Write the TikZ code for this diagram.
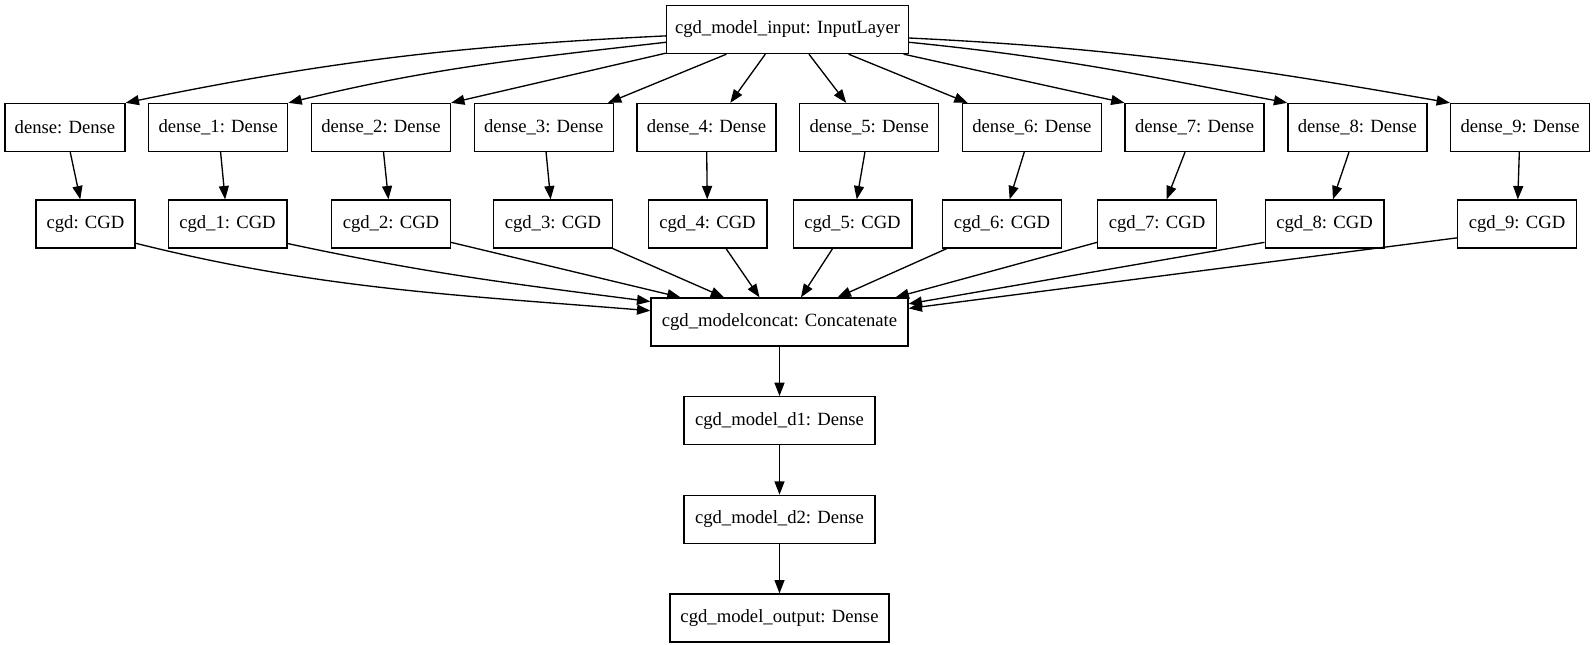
\documentclass[tikz,border=0pt]{standalone}
\usepackage{fontspec}
\setmainfont{Liberation Serif}
\usepackage{tikz}
\usetikzlibrary{arrows.meta, positioning, calc}
\tikzstyle{arrow} = [line width=1pt, -{Triangle[length=10pt, width=7.5pt]}]
\tikzstyle{layer} = [rectangle, minimum height=36pt, inner sep=2pt, text centered, draw=black, line width=1pt, font=\fontsize{14pt}{17pt}\selectfont]

\begin{document}
\begin{tikzpicture}[x=0.75pt, y=-0.75pt]
    \useasboundingbox (0,0) rectangle (1595,644);

    % Entrada
    \node (inp) [layer, minimum width=181.5pt] at (787.5,29.5) {cgd\_model\_input: InputLayer};

    % Capas densas
    \node (den0) [layer, minimum width=90pt] at (65,127.5) {dense: Dense};
    \node (den1) [layer, minimum width=104.25pt, right=16.8pt of den0] {dense\_1: Dense};
    \node (den2) [layer, minimum width=104.25pt, right=16.8pt of den1] {dense\_2: Dense};
    \node (den3) [layer, minimum width=104.25pt, right=16.8pt of den2] {dense\_3: Dense};
    \node (den4) [layer, minimum width=104.25pt, right=16.8pt of den3] {dense\_4: Dense};
    \node (den5) [layer, minimum width=104.25pt, right=16.8pt of den4] {dense\_5: Dense};
    \node (den6) [layer, minimum width=104.25pt, right=16.8pt of den5] {dense\_6: Dense};
    \node (den7) [layer, minimum width=104.25pt, right=16.8pt of den6] {dense\_7: Dense};
    \node (den8) [layer, minimum width=104.25pt, right=16.8pt of den7] {dense\_8: Dense};
    \node (den9) [layer, minimum width=104.25pt, right=16.8pt of den8] {dense\_9: Dense};

    % Capas CGD
    \node (cgd0) [layer, minimum width=74.25pt] at (85.5,224) {cgd: CGD};
    \node (cgd1) [layer, minimum width=89pt] at (227.5,224) {cgd\_1: CGD};
    \node (cgd2) [layer, minimum width=89pt] at (391,224) {cgd\_2: CGD};
    \node (cgd3) [layer, minimum width=89pt] at (553,224) {cgd\_3: CGD};
    \node (cgd4) [layer, minimum width=89pt] at (707.5,224) {cgd\_4: CGD};
    \node (cgd5) [layer, minimum width=89pt] at (852.5,224) {cgd\_5: CGD};
    \node (cgd6) [layer, minimum width=89pt] at (1002,224) {cgd\_6: CGD};
    \node (cgd7) [layer, minimum width=89pt] at (1157,224) {cgd\_7: CGD};
    \node (cgd8) [layer, minimum width=89pt] at (1324.5,224) {cgd\_8: CGD};
    \node (cgd9) [layer, minimum width=89pt] at (1517,224) {cgd\_9: CGD};

    % Concatenacion y salida
    \node (concat) [layer, minimum width=192.75pt] at (779.5,322) {cgd\_modelconcat: Concatenate};
    \node (d1) [layer, minimum width=143.25pt, below=37pt of concat] {cgd\_model\_d1: Dense};
    \node (d2) [layer, minimum width=143.25pt, below=37pt of d1] {cgd\_model\_d2: Dense};
    \node (out) [layer, minimum width=164.25pt, below=37pt of d2] {cgd\_model\_output: Dense};

    % Flechas de la entrada
    \draw [arrow] (inp.183.8) .. controls +(-210,10) and +(200,-41) .. (den0.north east);
    \draw [arrow] (inp.186.6) .. controls +(-150,17) and +(140,-34) .. (den1.north east);
    \draw [arrow] (inp.191.9) -- (den2.north east);
    \draw [arrow] (inp.202.5) -- (den3.21);
    \draw [arrow] (inp.228.8) -- (den4.46);
    \draw [arrow] (inp.311.2) -- (den5.133);
    \draw [arrow] (inp.338.8) -- (den6.159);
    \draw [arrow] (inp.348.7) -- (den7.north west);
    \draw [arrow] (inp.354.5) .. controls +(150,15) and +(-140,-27) .. (den8.north west);
    \draw [arrow] (inp.356.8) .. controls +(210,10) and +(-200,-35) .. (den9.north west);

    % Dense a CGD
    \draw [arrow] (den0) -- (cgd0);
    \draw [arrow] (den1) -- (cgd1);
    \draw [arrow] (den2) -- (cgd2);
    \draw [arrow] (den3) -- (cgd3);
    \draw [arrow] (den4) -- (cgd4);
    \draw [arrow] (den5) -- (cgd5);
    \draw [arrow] (den6) -- (cgd6);
    \draw [arrow] (den7) -- (cgd7);
    \draw [arrow] (den8) -- (cgd8);
    \draw [arrow] (den9) -- (cgd9);

    % CGD a concatenacion
    \draw [arrow] (cgd0.339) .. controls +(180,45) and +(-200,-16) .. (concat.175.5);
    \draw [arrow] (cgd1.342) .. controls +(140,30) and +(-140,-18) .. (concat.171.6);
    \draw [arrow] (cgd2.343) -- (concat.166.3);
    \draw [arrow] (cgd3.south east) -- (concat.156.6);
    \draw [arrow] (cgd4.307.6) -- (concat.129);
    \draw [arrow] (cgd5.231) -- (concat.49.5);
    \draw [arrow] (cgd6.204) -- (concat.23);
    \draw [arrow] (cgd7.197.8) -- (concat.12.6);
    \draw [arrow] (cgd8.197.7) -- (concat.8.8);
    \draw [arrow] (cgd9.193) -- (concat.6.7);

    % Cadena final
    \draw [arrow] (concat) -- (d1);
    \draw [arrow] (d1) -- (d2);
    \draw [arrow] (d2) -- (out);
\end{tikzpicture}
\end{document}
